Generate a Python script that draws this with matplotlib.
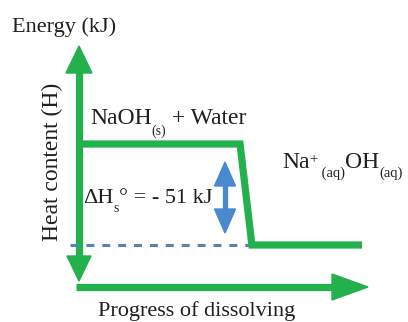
import matplotlib
matplotlib.use("Agg")
import matplotlib.pyplot as plt
from matplotlib.patches import Polygon

# ---- data (schematic enthalpy diagram) ----
progress = [0.0, 0.569, 0.611, 1.0]         # progress of dissolving (fraction)
enthalpy = [0.0, 0.0, -51.0, -51.0]         # heat content relative to NaOH(s)+water, kJ
delta_h = -51                               # kJ
x_title = "Progress of dissolving"
y_title = "Heat content (H)"
top_title = "Energy (kJ)"

GREEN = "#22b14c"
BLUE = "#4a88d0"
DASH = "#5b80b6"
TXT = "#231f20"
FAM = ["Liberation Serif", "DejaVu Serif"]

W, H = 408, 322
fig = plt.figure(figsize=(W / 100, H / 100), dpi=100)
fig.patch.set_facecolor("white")

# pixel-coordinate overlay for decorations and text
axp = fig.add_axes([0, 0, 1, 1])
axp.set_xlim(0, W)
axp.set_ylim(H, 0)
axp.axis("off")

# data axes mapped so that progress 0->px 79, 1->px 362; H 0->px 144, -51->px 245
x0px, x1px = 79, 362
y0px, y1px = 144, 245
sx = (x1px - x0px) / 1.0
sy = (y1px - y0px) / 51.0
ax = fig.add_axes([0, 0, 1, 1])
ax.set_xlim(-x0px / sx, (W - x0px) / sx)
ax.set_ylim(-(H - y0px) / sy, y0px / sy)
ax.axis("off")
ax.patch.set_alpha(0)

# dashed reference at product level
ax.plot([-0.032, progress[2]], [delta_h, delta_h], color=DASH, lw=2.2,
        dashes=(2.6, 2.6), solid_capstyle="butt", zorder=2)

# energy curve
ax.plot(progress, enthalpy, color=GREEN, lw=5.2, solid_joinstyle="miter",
        solid_capstyle="butt", zorder=3)

# axes arrows (green)
axp.plot([78.5, 78.5], [70, 260], color=GREEN, lw=5.2, solid_capstyle="butt", zorder=3)
axp.add_patch(Polygon([[66, 73], [92, 73], [79, 46]], closed=True, color=GREEN, zorder=3))
axp.add_patch(Polygon([[67, 256], [91, 256], [79, 281]], closed=True, color=GREEN, zorder=3))
axp.plot([75.5, 334], [287, 287], color=GREEN, lw=5.2, solid_capstyle="butt", zorder=3)
axp.add_patch(Polygon([[332, 274], [332, 300], [368, 287]], closed=True, color=GREEN, zorder=3))

# delta H double arrow (blue)
xa = 225
axp.plot([xa, xa], [183, 212], color=BLUE, lw=3.8, solid_capstyle="butt", zorder=3)
axp.add_patch(Polygon([[214.5, 186], [235.5, 186], [225, 162]], closed=True, color=BLUE, zorder=3))
axp.add_patch(Polygon([[214.5, 209], [235.5, 209], [225, 233]], closed=True, color=BLUE, zorder=3))

renderer = fig.canvas.get_renderer()


def rich(x, y, parts):
    """Draw text pieces left to right; each part = (text, size, baseline shift px down)."""
    for s, size, dy in parts:
        t = axp.text(x, y + dy, s, fontsize=size, family=FAM, color=TXT,
                     ha="left", va="baseline")
        x += t.get_window_extent(renderer).width


axp.text(12, 32, top_title, fontsize=16, family=FAM, color=TXT, ha="left", va="baseline")
axp.text(58, 162, y_title, fontsize=17, family=FAM, color=TXT, rotation=90,
         rotation_mode="anchor", ha="center", va="baseline")
axp.text(98, 316, x_title, fontsize=16, family=FAM, color=TXT, ha="left", va="baseline")

rich(90, 124, [("NaOH", 17, 0), ("(s)", 10, 11), (" + Water", 17, 0)])
rich(282, 168, [("Na", 17, 0), ("+", 10.5, -5), (" (aq)", 10.5, 9), ("OH", 17, 0), ("(aq)", 10.5, 9)])
rich(83, 203, [("ΔH", 16, 0), ("s", 10, 9), ("°", 16, 0), (" = - %d kJ" % abs(delta_h), 16, 0)])

fig.savefig("out.png", dpi=100, facecolor="white")
